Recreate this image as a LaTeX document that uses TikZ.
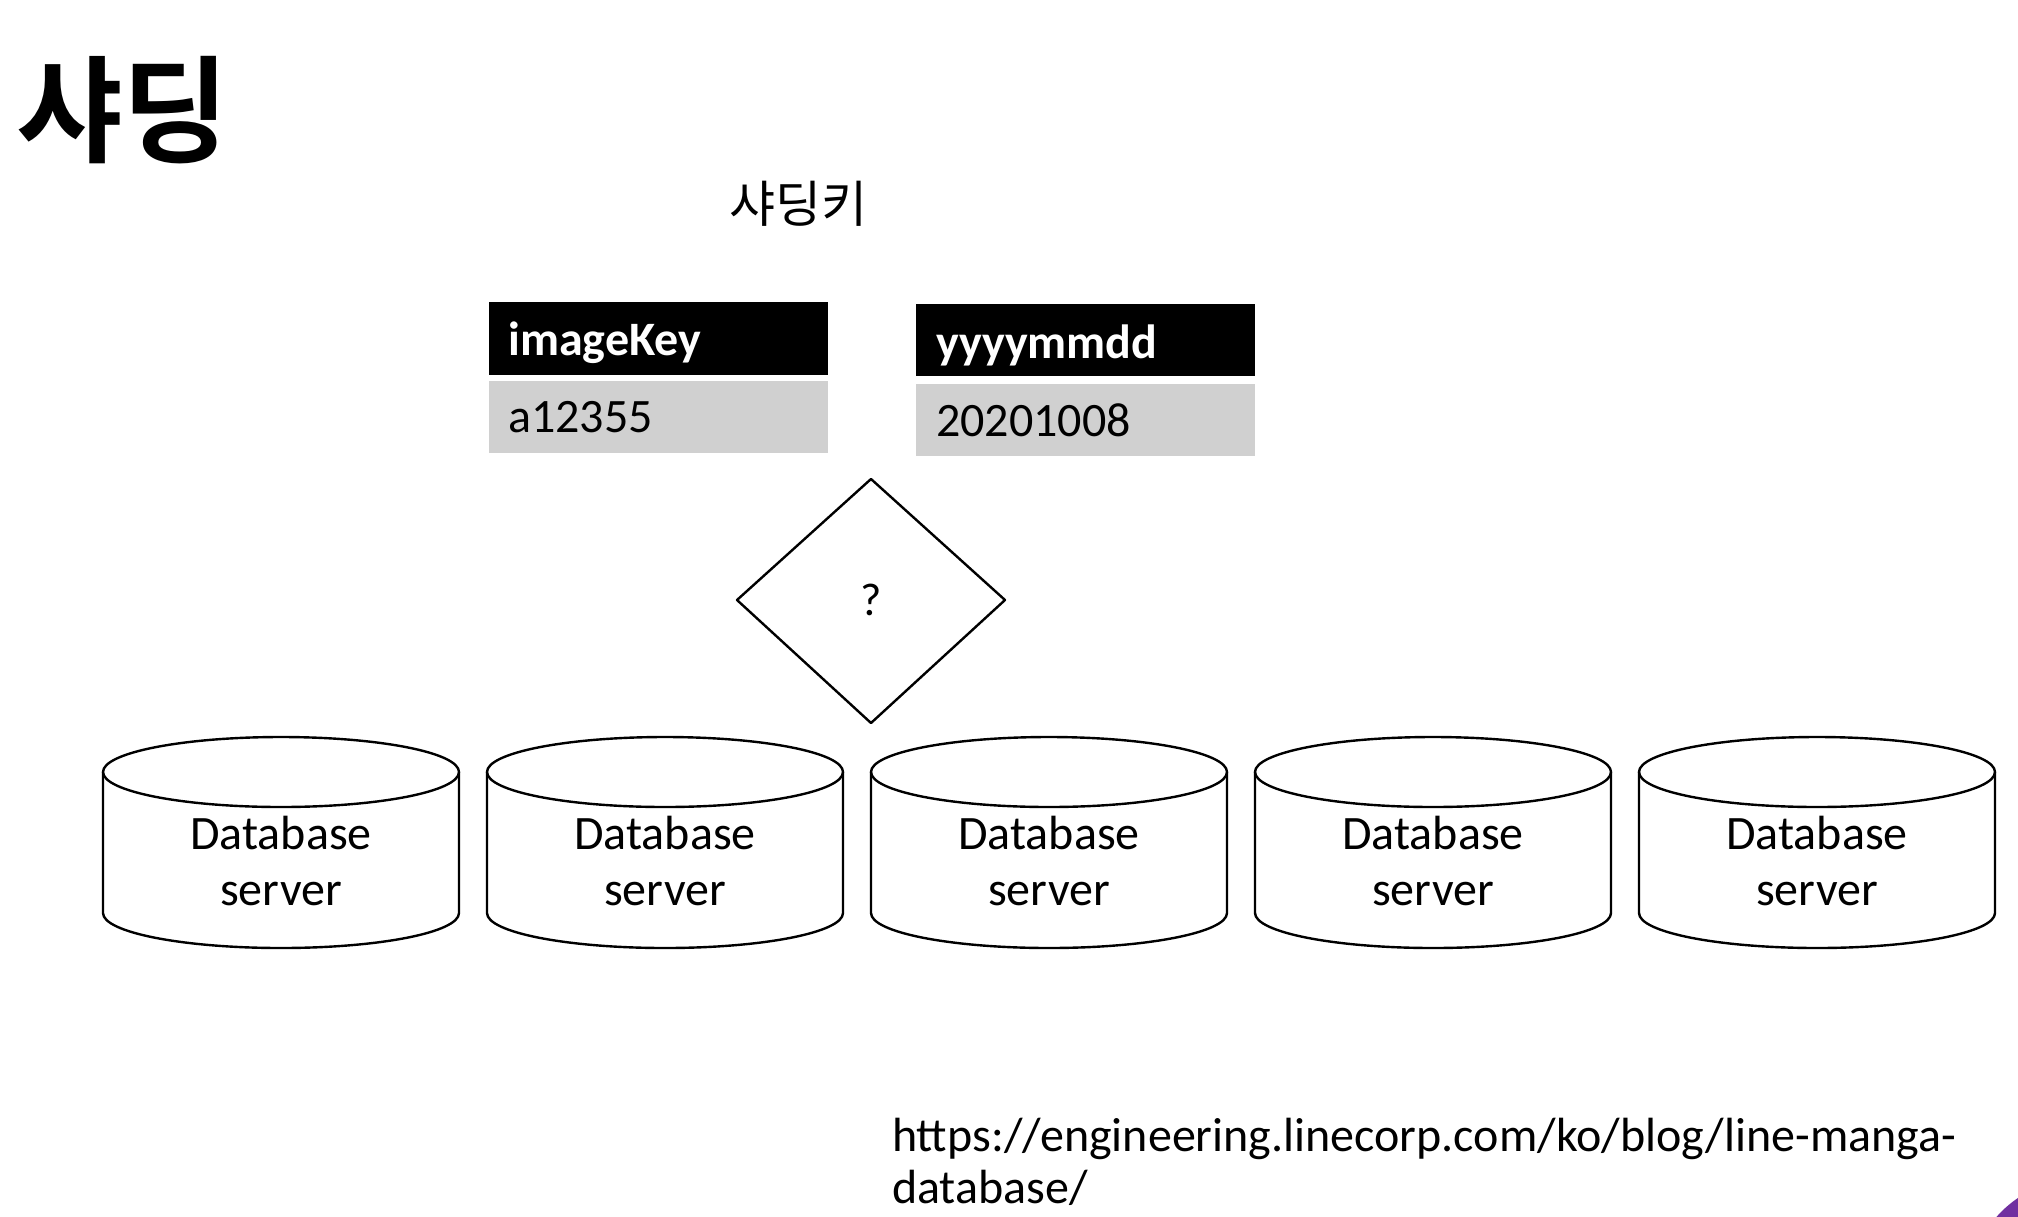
\documentclass[tikz,border=0pt]{standalone}
\usepackage{fontspec}
\setmainfont{Carlito}
\newfontfamily\krfont{Noto Sans CJK KR}
\newfontfamily\krbold{Noto Sans CJK KR Bold}
\definecolor{cellgray}{RGB}{208,208,208}
\definecolor{cornerpurple}{RGB}{112,48,160}
\begin{document}
\begin{tikzpicture}[x=1pt,y=-1pt,
  hdr/.style={fill=black,draw=none},
  cellbody/.style={fill=cellgray,draw=none},
  hdrtext/.style={anchor=west,inner sep=0pt,text=white,font=\fontsize{48}{56}\selectfont\bfseries},
  celltext/.style={anchor=west,inner sep=0pt,font=\fontsize{48}{56}\selectfont},
  outline/.style={draw=black,line width=2.4pt,line join=round},
  dbtext/.style={align=center,inner sep=0pt,font=\fontsize{48}{56}\selectfont}]
\useasboundingbox (0,0) rectangle (2018,1216);
\clip (0,0) rectangle (2018,1216);
\fill[white] (0,0) rectangle (2018,1216);

% title
\node[inner sep=0pt,font=\krbold\fontsize{116}{124}\selectfont] (title) at (123,110) {샤딩};
\node[inner sep=0pt,font=\krfont\fontsize{50}{56}\selectfont] (key) at (798,204) {샤딩키};

% table 1
\path[hdr] (489,302) rectangle (828,375);
\path[cellbody] (489,381) rectangle (828,453);
\node[hdrtext] (h1) at (508,343) {imageKey};
\node[celltext] (v1) at (508,417) {a12355};

% table 2
\path[hdr] (916,304) rectangle (1255,376);
\path[cellbody] (916,384) rectangle (1255,456);
\node[hdrtext] (h2) at (936,345) {yyyymmdd};
\node[celltext] (v2) at (936,420) {20201008};

% diamond
\draw[outline] (871,479) -- (1005,600) -- (871,723) -- (737,600) -- cycle;
\node[inner sep=0pt,font=\fontsize{46}{56}\selectfont] (q) at (871,600) {?};

% cylinders
\foreach \cx [count=\i] in {281,665,1049,1433,1817}{
  \draw[outline,fill=white] (\cx-178,772) -- (\cx-178,913)
     arc[start angle=180,end angle=360,x radius=178,y radius=-35]
     -- (\cx+178,772);
  \draw[outline] (\cx,772) ellipse[x radius=178,y radius=35];
  \node[dbtext] (db\i) at (\cx,861) {Database\\server};
}

% url
\node[anchor=base west,inner sep=0pt,font=\fontsize{48}{57}\selectfont] (url1) at (892,1151) {https://engineering.linecorp.com/ko/blog/line-manga-};
\node[anchor=base west,inner sep=0pt,font=\fontsize{48}{57}\selectfont] (url2) at (892,1203) {database/};

% corner decoration
\fill[cornerpurple] (2080,1290) circle (111);
\end{tikzpicture}
\end{document}
